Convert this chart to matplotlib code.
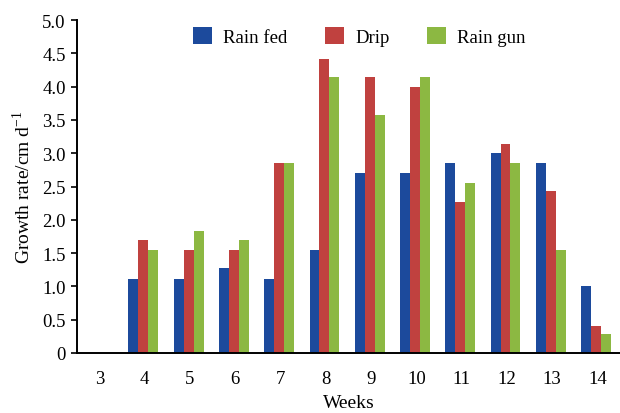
import matplotlib
matplotlib.use("Agg")
import matplotlib.pyplot as plt
import numpy as np

weeks = ["3", "4", "5", "6", "7", "8", "9", "10", "11", "12", "13", "14"]
rain_fed = [0, 1.11, 1.11, 1.27, 1.11, 1.55, 2.70, 2.70, 2.86, 3.00, 2.86, 1.00]
drip = [0, 1.70, 1.55, 1.55, 2.86, 4.42, 4.14, 4.00, 2.27, 3.14, 2.43, 0.40]
rain_gun = [0, 1.55, 1.83, 1.70, 2.86, 4.14, 3.57, 4.14, 2.55, 2.86, 1.55, 0.28]
series_names = ["Rain fed", "Drip", "Rain gun"]
colors = ["#1c4a9c", "#c0413f", "#8cb842"]
yticks = [0, 0.5, 1.0, 1.5, 2.0, 2.5, 3.0, 3.5, 4.0, 4.5, 5.0]
ytick_labels = ["0", "0.5", "1.0", "1.5", "2.0", "2.5", "3.0", "3.5", "4.0", "4.5", "5.0"]

plt.rcParams['font.family'] = ['Liberation Serif', 'DejaVu Serif']

fig = plt.figure(figsize=(6.2, 4.14), dpi=100)
ax = fig.add_axes([0.124, 0.145, 0.876, 0.804])

x = np.arange(len(weeks))
w = 0.22
for i, (vals, name, c) in enumerate(zip([rain_fed, drip, rain_gun], series_names, colors)):
    ax.bar(x + (i - 1) * w - 0.03, vals, width=w, color=c, label=name, edgecolor='none')

ax.set_xlim(-0.5, len(weeks) - 0.5)
ax.set_ylim(0, 5.0)
ax.set_xticks(x)
ax.set_xticklabels(weeks, fontsize=13.5)
ax.set_yticks(yticks)
ax.set_yticklabels(ytick_labels, fontsize=13.5)
ax.tick_params(axis='x', length=0, pad=12)
ax.tick_params(axis='y', direction='out', length=4, width=1.2, pad=4)
for s in ['top', 'right']:
    ax.spines[s].set_visible(False)
for s in ['left', 'bottom']:
    ax.spines[s].set_linewidth(1.4)

ax.set_xlabel("Weeks", fontsize=14, labelpad=5)
ax.set_ylabel("Growth rate/cm d$^{\\mathregular{-1}}$", fontsize=14, labelpad=6)

ax.legend(loc='upper center', bbox_to_anchor=(0.52, 1.03), ncol=3, frameon=False,
          fontsize=13.5, handlelength=1.0, handleheight=1.0, columnspacing=2.0, handletextpad=0.6)

fig.savefig("out.png", dpi=100)
